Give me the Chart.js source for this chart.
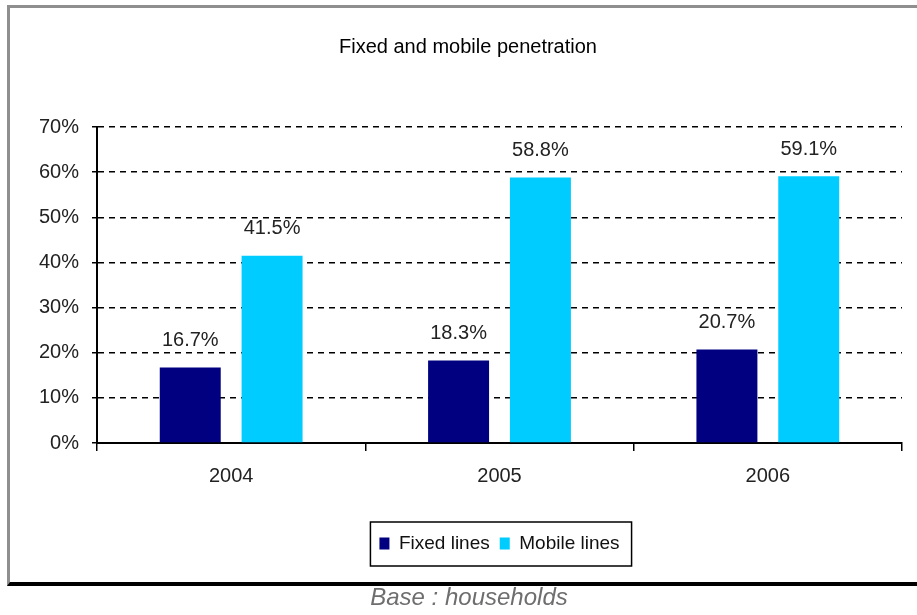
<!DOCTYPE html>
<html>
<head>
<meta charset="utf-8">
<script src="https://cdn.jsdelivr.net/npm/chart.js@4/dist/chart.umd.min.js"></script>
<style>
  html, body { margin: 0; padding: 0; background: #fff; }
  #wrap { position: relative; width: 917px; height: 615px; overflow: hidden; }
  #frame {
    position: absolute; left: 7px; top: 5px; width: 930px; height: 574px;
    border-left: 3px solid #8f8f8f; border-top: 3px solid #8f8f8f;
    border-bottom: 4px solid #000;
  }
  #chart { position: absolute; left: 0; top: 0; }
  #base {
    position: absolute; left: 0; width: 938px; top: 585px; text-align: center;
    font: italic 24px "Liberation Sans", Arial, sans-serif; line-height: 1; color: #6e6e6e;
  }
</style>
</head>
<body>
<div id="wrap">
  <div id="frame"></div>
  <canvas id="chart" width="917" height="615"></canvas>
  <div id="base">Base : households</div>
</div>
<script>
// Household penetration by year
const years = ['2004', '2005', '2006'];
const fixedLines = [16.7, 18.3, 20.7];
const mobileLines = [41.5, 58.8, 59.1];
const yTicks = [0, 10, 20, 30, 40, 50, 60, 70];

const tickFont = { family: '"Liberation Sans", Arial, sans-serif', size: 20 };
const legendFont = { family: '"Liberation Sans", Arial, sans-serif', size: 19 };

// Value labels above each bar
const valueLabels = {
  id: 'valueLabels',
  afterDatasetsDraw(chart) {
    const ctx = chart.ctx;
    ctx.save();
    ctx.font = '20px "Liberation Sans", Arial, sans-serif';
    ctx.fillStyle = '#222';
    ctx.textAlign = 'center';
    ctx.textBaseline = 'middle';
    chart.data.datasets.forEach((ds, i) => {
      chart.getDatasetMeta(i).data.forEach((bar, j) => {
        ctx.fillText(ds.data[j].toFixed(1) + '%', bar.x, bar.y - 27);
      });
    });
    ctx.restore();
  }
};

// Centre the legend under the plot area and draw a border round it
const legendBox = {
  id: 'legendBox',
  afterLayout(chart) {
    const lg = chart.legend;
    const area = chart.chartArea;
    const dx = (area.left + area.right) / 2 - (lg.left + lg.right) / 2;
    lg.left += dx;
    lg.right += dx;
  },
  afterDraw(chart) {
    const boxes = chart.legend.legendHitBoxes;
    if (!boxes || !boxes.length) return;
    const left = Math.min(...boxes.map(b => b.left)) - 9;
    const right = Math.max(...boxes.map(b => b.left + b.width)) + 12;
    const top = Math.min(...boxes.map(b => b.top)) - 12;
    const bottom = Math.max(...boxes.map(b => b.top + b.height)) + 13;
    const ctx = chart.ctx;
    ctx.save();
    ctx.strokeStyle = '#000';
    ctx.lineWidth = 1.5;
    ctx.strokeRect(left, top, right - left, bottom - top);
    ctx.restore();
  }
};

new Chart(document.getElementById('chart'), {
  type: 'bar',
  data: {
    labels: years,
    datasets: [
      {
        label: 'Fixed lines',
        data: fixedLines,
        backgroundColor: '#000080',
        categoryPercentage: 0.61,
        barPercentage: 0.745
      },
      {
        label: 'Mobile lines',
        data: mobileLines,
        backgroundColor: '#00ccff',
        categoryPercentage: 0.61,
        barPercentage: 0.745
      }
    ]
  },
  options: {
    responsive: false,
    animation: false,
    layout: { padding: { left: 34, right: 15, top: 0, bottom: 52 } },
    plugins: {
      title: {
        display: true,
        text: 'Fixed and mobile penetration',
        color: '#000',
        font: { family: '"Liberation Sans", Arial, sans-serif', size: 20, weight: 'normal' },
        padding: { top: 35, bottom: 68 }
      },
      legend: {
        position: 'bottom',
        labels: {
          color: '#111',
          font: legendFont,
          boxWidth: 10,
          boxHeight: 12,
          padding: 10
        }
      },
      tooltip: { enabled: false }
    },
    scales: {
      x: {
        grid: {
          display: true,
          drawOnChartArea: false,
          drawTicks: true,
          tickLength: 8,
          offset: true,
          color: '#000',
          lineWidth: 1.5
        },
        border: { display: true, color: '#000', width: 2 },
        ticks: { color: '#222', font: tickFont, padding: 13 },
        afterFit(scale) { scale.height = 81; }
      },
      y: {
        min: 0,
        max: 70,
        afterBuildTicks(scale) { scale.ticks = yTicks.map(v => ({ value: v })); },
        grid: {
          color: '#000',
          lineWidth: 1.5,
          tickLength: 5,
          tickBorderDash: []
        },
        border: { display: true, color: '#000', width: 2, dash: [6, 5] },
        ticks: {
          color: '#222',
          font: tickFont,
          padding: 13,
          callback: v => v + '%'
        },
        afterFit(scale) { scale.width = 97 - 34; }
      }
    }
  },
  plugins: [valueLabels, legendBox]
});
</script>
</body>
</html>
